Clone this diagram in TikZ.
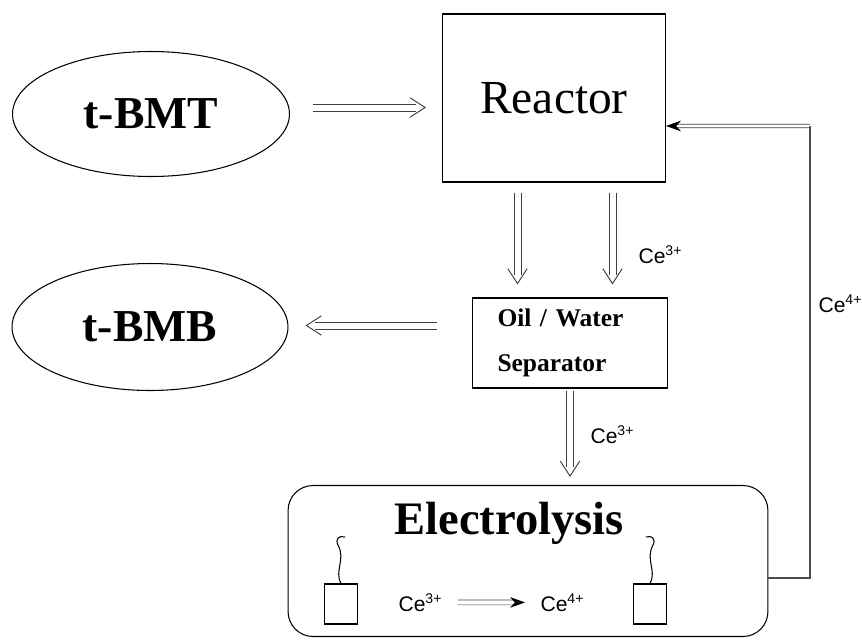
\documentclass[tikz,border=0pt]{standalone}
\usepackage{fontspec}
\setmainfont{Liberation Serif}
\newfontfamily\arialfont{Liberation Sans}
\usetikzlibrary{shapes.geometric, arrows.meta}

\newcommand{\ceion}[1]{{\arialfont\fontsize{12}{14}\selectfont Ce\textsuperscript{#1}}}

\tikzset{
  pipe tip/.style={draw=white, line width=0.3pt, shorten >=#1, -{Straight Barb[length=8.5pt, width=11pt, line width=0.55pt, color=black!75]}},
  pipe rail/.style={draw=black!75, line width=0.5pt, -, shorten >=#1+5.5pt},
  hpipe/.style={pipe tip=#1,
    preaction={pipe rail=#1, transform canvas={yshift=2pt}},
    preaction={pipe rail=#1, transform canvas={yshift=-2pt}}},
  vpipe/.style={pipe tip=#1,
    preaction={pipe rail=#1, transform canvas={xshift=2pt}},
    preaction={pipe rail=#1, transform canvas={xshift=-2pt}}},
  solid tip/.style={draw=white, line width=0.3pt, shorten >=#1, -{Stealth[length=8.5pt, width=6pt, line width=0.4pt, color=black, fill=black]}},
  thin rail/.style={draw=black!75, line width=0.4pt, -, shorten >=#1+5pt},
  ionarrow/.style={solid tip=#1,
    preaction={thin rail=#1, transform canvas={yshift=1.4pt}},
    preaction={thin rail=#1, transform canvas={yshift=-1.4pt}}},
  backarrow/.style={solid tip=#1,
    preaction={thin rail=#1, transform canvas={yshift=0.95pt}},
    preaction={thin rail=#1, transform canvas={yshift=-0.95pt}}},
  feedline/.style={draw=black!70, line width=0.6pt},
  ionlabel/.style={inner sep=0pt, anchor=base west}
}

\begin{document}
\begin{tikzpicture}[x=0.02cm, y=-0.02cm, line width=0.6pt]
\useasboundingbox (0,0) rectangle (862,640);

\node (tbmt) [ellipse, draw, minimum width=5.54cm, minimum height=2.5cm, font=\bfseries\fontsize{26}{30}\selectfont] at (151,114) {t-BMT};
\node (tbmb) [ellipse, draw, minimum width=5.52cm, minimum height=2.54cm, font=\bfseries\fontsize{26}{30}\selectfont] at (150,327) {t-BMB};

\node (reactor) [rectangle, draw, minimum width=4.46cm, minimum height=3.36cm, font=\fontsize{27}{30}\selectfont] at (554,98) {Reactor};
\node (sep) [rectangle, draw, minimum width=3.9cm, minimum height=1.8cm, text width=2.9cm, inner xsep=0.5cm, align=left, font=\bfseries\fontsize{14.5}{25.5}\selectfont] at (570,343) {Oil / Water\\Separator};

\node (elec) [rectangle, draw, rounded corners=0.5cm, minimum width=9.6cm, minimum height=3.02cm] at (528,561) {};
\node (eltitle) [font=\bfseries\fontsize{26.5}{30}\selectfont] at (509,523) {Electrolysis};

% electrodes
\node (eleft) [rectangle, draw, minimum width=0.66cm, minimum height=0.8cm] at (341,604) {};
\node (eright) [rectangle, draw, minimum width=0.66cm, minimum height=0.8cm] at (650,604) {};
\draw (eleft.north) .. controls (334,570) and (346,560) .. (338,545) .. controls (335,539) and (339,535) .. (345,537);
\draw (eright.north) .. controls (657,570) and (645,560) .. (653,545) .. controls (656,539) and (652,535) .. (646,537);

% ion labels
\node (cea) [ionlabel] at (638,263) {\ceion{3+}};
\node (ceb) [ionlabel] at (590,443) {\ceion{3+}};
\node (cec) [ionlabel] at (818,312) {\ceion{4+}};
\node (cein) [ionlabel] at (398,611) {\ceion{3+}};
\node (ceout) [ionlabel] at (540,611) {\ceion{4+}};

% flows
\draw[hpipe=0.32cm, shorten <=0.46cm] ([yshift=0.13cm]tbmt.east) -- ([yshift=0.13cm]tbmt.east -| reactor.west);
\draw[vpipe=0.26cm, shorten <=0.2cm] ([xshift=-0.73cm]reactor.south) -- ([xshift=-0.73cm]reactor.south |- sep.north);
\draw[vpipe=0.26cm, shorten <=0.2cm] ([xshift=1.17cm]reactor.south) -- ([xshift=1.17cm]reactor.south |- sep.north);
\draw[hpipe=0.34cm, shorten <=0.7cm] ([yshift=0.35cm]sep.west) -- ([yshift=0.35cm]sep.west -| tbmb.east);
\draw[vpipe=0.16cm, shorten <=0.04cm] (sep.south) -- (sep.south |- elec.north);
\draw[ionarrow=0.3cm, shorten <=0.3cm] (cein.east) -- (ceout.west);

% return line
\coordinate (turn) at (810,126);
\draw[feedline] ([yshift=-0.34cm]elec.east) -| (turn);
\draw[backarrow=0pt] (turn) -- ([yshift=-0.56cm]reactor.east);

\end{tikzpicture}
\end{document}
